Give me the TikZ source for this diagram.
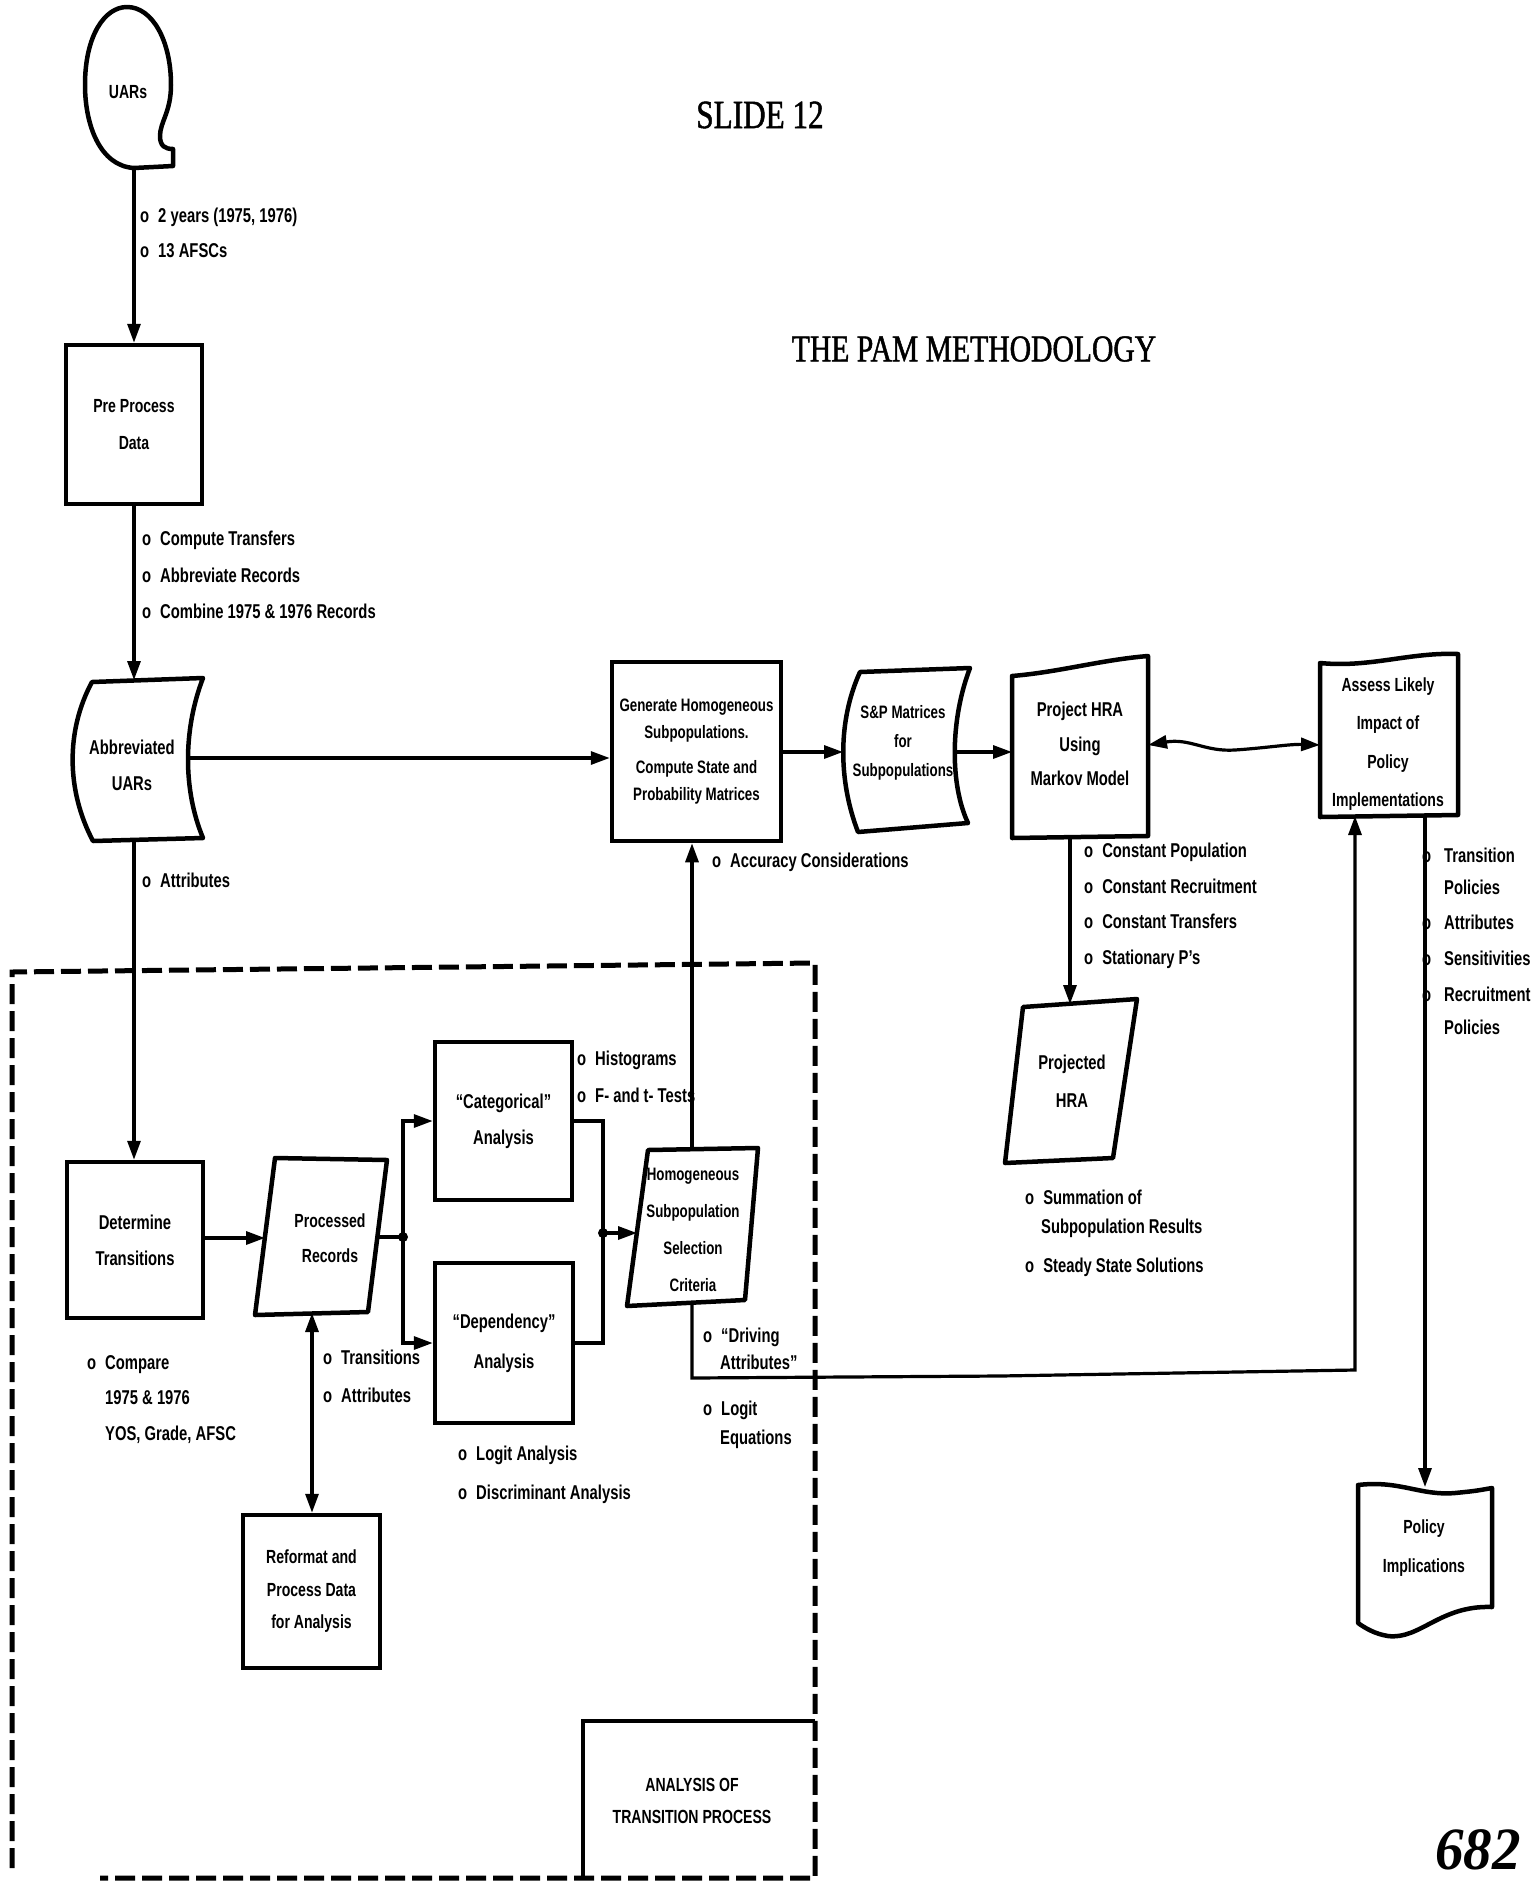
\documentclass[tikz,border=0pt]{standalone}
\usepackage{fontspec}
\setmainfont{Liberation Sans}[FakeStretch=0.74, UprightFont=*-Bold, BoldFont=*-Bold]
\newfontfamily\titlefont{Liberation Serif}[FakeStretch=0.78, FakeBold=1.2]
\newfontfamily\numfont{Liberation Serif}[FakeStretch=0.95]
\usetikzlibrary{arrows.meta}
\newcommand{\fsz}[2]{\fontsize{#1}{#2}\selectfont}
\newcommand{\bul}{o\hspace{9pt}}
\begin{document}
\begin{tikzpicture}[x=1pt,y=-1pt,
  shp/.style={draw, line width=4.5pt, line join=round},
  rbox/.style={draw, line width=4.5pt, align=center, inner sep=0pt, font=\fsz{20}{36}},
  txt/.style={inner sep=0pt, align=center, font=\fsz{20}{36}},
  lbl/.style={anchor=west, inner sep=0pt, text height=14.3pt, text depth=0pt, font=\fsz{20}{24}},
  wire/.style={line width=3.2pt},
  arr/.style={wire, -{Triangle[length=19pt,width=13pt]}},
  darr/.style={wire, {Triangle[length=19pt,width=13pt]}-{Triangle[length=19pt,width=13pt]}},
  dot/.style={fill, circle, inner sep=0pt, minimum size=10pt},
  region/.style={line width=5pt, dash pattern=on 20pt off 7pt},
]
\useasboundingbox (0,0) rectangle (1536,1896);

% ---------- titles ----------
\node[inner sep=0pt, font=\titlefont\fsz{40}{40}] (slide) at (760,115) {SLIDE 12};
\node[inner sep=0pt, font=\titlefont\fsz{38}{38}] (title) at (974,349) {THE PAM METHODOLOGY};
\node[inner sep=0pt, font=\numfont\itshape\bfseries\fsz{60}{60}] (pg) at (1478,1850) {682};

% ---------- UARs source ----------
\draw[shp] (173,149) -- (173,166) -- (134,168)
  .. controls (100,166) and (85,125) .. (85,85)
  .. controls (85,35) and (105,7) .. (127,7)
  .. controls (152,7) and (171,40) .. (171,85)
  .. controls (171,112) and (160,122) .. (160,136)
  .. controls (160,146) and (165,149) .. (173,149) -- cycle;
\node[txt, font=\fsz{19}{22}] (uars) at (128,92) {UARs};
\coordinate (uars-s) at (134,168);
\node[lbl] (n1) at (140,215) {\bul 2 years (1975, 1976)};
\node[lbl] (n2) at (140,250) {\bul 13 AFSCs};

% ---------- Pre process ----------
\node[rbox, minimum width=136pt, minimum height=159pt, font=\fsz{19}{37}] (pre) at (134,424.5) {Pre Process\\Data};
\node[lbl] (n3) at (142,538) {\bul Compute Transfers};
\node[lbl] (n4) at (142,575) {\bul Abbreviate Records};
\node[lbl] (n5) at (142,611) {\bul Combine 1975 \& 1976 Records};

% ---------- Abbreviated UARs ----------
\draw[shp] (92,682) -- (203,678) .. controls (183,730) and (183,790) .. (203,838)
  -- (93,841) .. controls (66,790) and (66,730) .. (92,682) -- cycle;
\node[txt] (abbr) at (132,765) {Abbreviated\\UARs};
\coordinate (abbr-n) at (134,680);
\coordinate (abbr-s) at (134,840);
\coordinate (abbr-e) at (188,758);
\node[lbl] (n6) at (142,880) {\bul Attributes};

% ---------- Generate ----------
\node[rbox, minimum width=169pt, minimum height=179pt, font=\fsz{18}{27}] (gen) at (696.5,751.5)
  {Generate Homogeneous\\Subpopulations.\\[8pt]Compute State and\\Probability Matrices};
\node[lbl] (n7) at (712,860) {\bul Accuracy Considerations};

% ---------- S&P matrices ----------
\draw[shp] (860,672) -- (970,668) .. controls (950,720) and (950,785) .. (968,823)
  -- (858,832) .. controls (838,780) and (838,720) .. (860,672) -- cycle;
\node[txt, font=\fsz{18}{29}] (sp) at (903,743) {S\&P Matrices\\for\\Subpopulations};
\coordinate (sp-w) at (843,752);
\coordinate (sp-e) at (955,752);

% ---------- Project HRA ----------
\draw[shp] (1012,676) .. controls (1060,672) and (1100,660) .. (1148,656)
  -- (1148,836) -- (1012,838) -- cycle;
\node[txt, font=\fsz{20}{34.5}] (proj) at (1080,744) {Project HRA\\Using\\Markov Model};
\coordinate (proj-w) at (1012,752);
\coordinate (proj-e) at (1148,745);
\coordinate (proj-s) at (1070,837);
\node[lbl] (n8) at (1084,850) {\bul Constant Population};
\node[lbl] (n9) at (1084,886) {\bul Constant Recruitment};
\node[lbl] (n10) at (1084,921) {\bul Constant Transfers};
\node[lbl] (n11) at (1084,957) {\bul Stationary P's};

% ---------- Projected HRA ----------
\draw[shp] (1023,1007) -- (1137,999) -- (1113,1158) -- (1005,1163) -- cycle;
\node[txt, font=\fsz{20}{38}] (phra) at (1072,1081) {Projected\\HRA};
\coordinate (phra-n) at (1070,1004);
\node[lbl] (n12) at (1025,1197) {\bul Summation of};
\node[lbl] (n13) at (1041,1226) {Subpopulation Results};
\node[lbl] (n14) at (1025,1265) {\bul Steady State Solutions};

% ---------- Assess ----------
\draw[shp] (1320,663) .. controls (1370,668) and (1410,652) .. (1458,654)
  -- (1458,815) -- (1320,817) -- cycle;
\node[txt, font=\fsz{19}{38.5}] (assess) at (1388,744) {Assess Likely\\Impact of\\Policy\\Implementations};
\coordinate (as-w) at (1320,745);
\coordinate (as-s1) at (1355,816);
\coordinate (as-s2) at (1425,815);
\node[lbl] (n15) at (1422,855) {o};
\node[lbl] (n16) at (1444,855) {Transition};
\node[lbl] (n17) at (1444,887) {Policies};
\node[lbl] (n18) at (1422,922) {o};
\node[lbl] (n19) at (1444,922) {Attributes};
\node[lbl] (n20) at (1422,958) {o};
\node[lbl] (n21) at (1444,958) {Sensitivities};
\node[lbl] (n22) at (1422,994) {o};
\node[lbl] (n23) at (1444,994) {Recruitment};
\node[lbl] (n24) at (1444,1027) {Policies};

% ---------- Policy implications ----------
\draw[shp] (1358,1485) .. controls (1400,1480) and (1420,1496) .. (1455,1493)
  .. controls (1475,1491) .. (1492,1488) -- (1492,1607)
  .. controls (1440,1605) and (1420,1640) .. (1388,1636)
  .. controls (1375,1634) and (1365,1628) .. (1358,1623) -- cycle;
\node[txt, font=\fsz{19}{39}] (pol) at (1424,1548) {Policy\\Implications};
\coordinate (pol-n) at (1425,1487);

% ---------- analysis of the transition process ----------
\node[rbox, minimum width=136pt, minimum height=156pt] (det) at (135,1240) {Determine\\Transitions};
\node[lbl] (n25) at (87,1362) {o};
\node[lbl] (n26) at (105,1362) {Compare};
\node[lbl] (n27) at (105,1397) {1975 \& 1976};
\node[lbl] (n28) at (105,1433) {YOS, Grade, AFSC};

\draw[shp] (275,1158) -- (387,1160) -- (368,1312) -- (255,1315) -- cycle;
\node[txt, font=\fsz{19}{35}] (proc) at (330,1238) {Processed\\Records};
\coordinate (proc-w) at (265,1238);
\coordinate (proc-e) at (377,1237);
\coordinate (proc-s) at (312,1313);
\node[lbl] (n29) at (323,1357) {\bul Transitions};
\node[lbl] (n30) at (323,1395) {\bul Attributes};

\node[rbox, minimum width=137pt, minimum height=153pt, font=\fsz{19}{32.5}] (ref) at (311.5,1591.5) {Reformat and\\Process Data\\for Analysis};

\node[rbox, minimum width=137pt, minimum height=158pt] (cat) at (503.5,1121) {``Categorical''\\Analysis};
\node[rbox, minimum width=138pt, minimum height=160pt, font=\fsz{20}{40}] (dep) at (504,1343) {``Dependency''\\Analysis};
\node[lbl] (n31) at (577,1058) {\bul Histograms};
\node[lbl] (n32) at (577,1095) {\bul F- and t- Tests};
\node[lbl] (n33) at (458,1453) {\bul Logit Analysis};
\node[lbl] (n34) at (458,1492) {\bul Discriminant Analysis};

\draw[shp] (648,1150) -- (758,1148) -- (745,1300) -- (627,1306) -- cycle;
\node[txt, font=\fsz{18}{37}] (hom) at (693,1230) {Homogeneous\\Subpopulation\\Selection\\Criteria};
\coordinate (hom-w) at (637,1233);
\coordinate (hom-n) at (692,1149);
\coordinate (hom-s) at (692,1303);
\node[lbl] (n35) at (703,1335) {\bul ``Driving};
\node[lbl] (n36) at (720,1362) {Attributes''};
\node[lbl] (n37) at (703,1408) {\bul Logit};
\node[lbl] (n38) at (720,1437) {Equations};

\coordinate (j1) at (403,1237);
\coordinate (j2) at (603,1233);

% ---------- connectors ----------
\draw[arr] (uars-s) -- (uars-s |- pre.north);
\draw[arr] (pre.south) -- (abbr-n);
\draw[arr] (abbr-s) -- (abbr-s |- det.north);
\draw[arr] (abbr-e) -- (abbr-e -| gen.west);
\draw[arr] (gen.east |- sp-w) -- (sp-w);
\draw[arr] (sp-e) -- (proj-w);
\draw[darr] (proj-e) .. controls (1190,738) and (1205,752) .. (1235,750)
  .. controls (1265,748) and (1290,744) .. (as-w);
\draw[arr] (proj-s) -- (phra-n);
\draw[arr] (as-s2) -- (pol-n);
\draw[arr] (hom-s) -- (692,1378) -- (1000,1376) -- (1355,1370) -- (as-s1);
\draw[arr] (hom-n) -- (hom-n |- gen.south);
\draw[arr] (det.east |- proc-w) -- (proc-w);
\draw[wire] (proc-e) -- (j1);
\draw[arr] (j1) |- (cat.west);
\draw[arr] (j1) |- (dep.west);
\draw[wire] (cat.east) -| (j2) |- (dep.east);
\draw[arr] (j2) -- (hom-w);
\draw[darr] (proc-s) -- (proc-s |- ref.north);
\node[dot] (d1) at (j1) {};
\node[dot] (d2) at (j2) {};

% ---------- boundary of the transition-process area ----------
\draw[region] (12,1868) -- (12,972) -- (815,963) -- (815,1878) -- (100,1878);
\draw[line width=3.5pt] (583,1878) -- (583,1721) -- (815,1721);
\node[txt, font=\fsz{19}{32}] (atp) at (692,1801) {ANALYSIS OF\\TRANSITION PROCESS};

\end{tikzpicture}
\end{document}
